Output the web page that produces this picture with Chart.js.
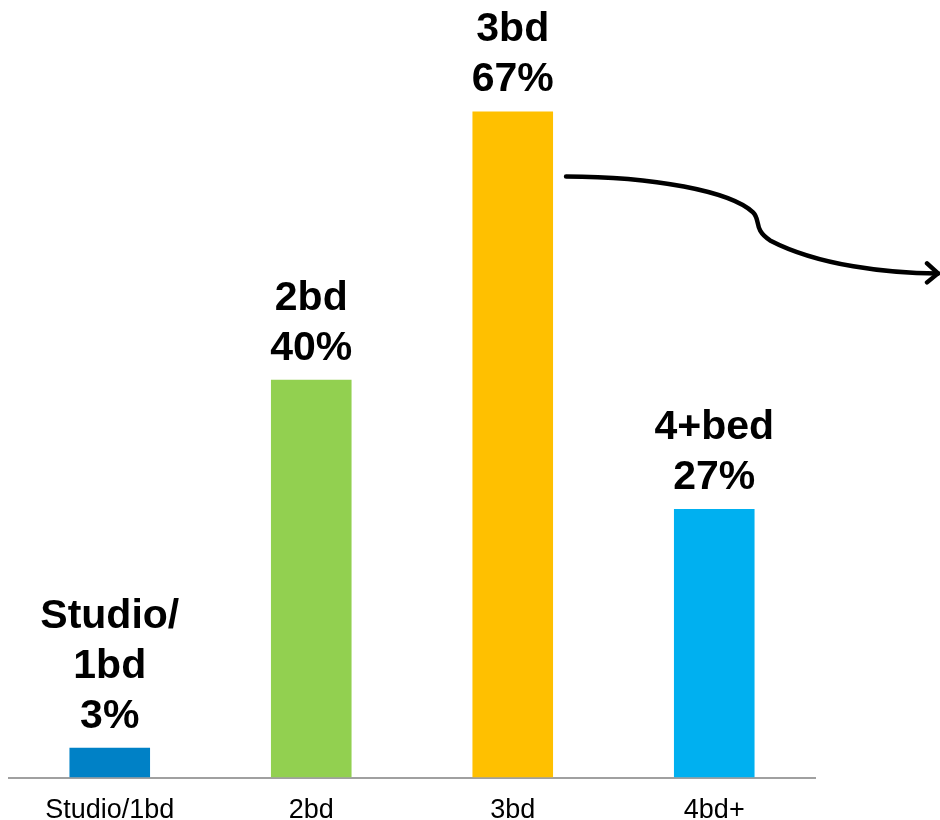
<!DOCTYPE html>
<html>
<head>
<meta charset="utf-8">
<title>Bedrooms</title>
<script src="https://cdn.jsdelivr.net/npm/chart.js@4"></script>
<style>
    html, body { margin: 0; padding: 0; background: #fff; }
    #wrap { width: 940px; height: 820px; }
</style>
</head>
<body>
<div id="wrap"><canvas id="bedChart" width="940" height="820"></canvas></div>
<script>
const categories = ['Studio/1bd', '2bd', '3bd', '4bd+'];
const shares = [3, 40, 67, 27];
const barNames = [['Studio/', '1bd'], ['2bd'], ['3bd'], ['4+bed']];
const barColors = ['#0081C6', '#92D050', '#FFC000', '#00B0F0'];

const FONT = '"Liberation Sans", Arial, sans-serif';

// name + percentage stacked above each bar
const barLabels = {
    id: 'barLabels',
    afterDatasetsDraw(chart) {
        const ctx = chart.ctx;
        const meta = chart.getDatasetMeta(0);
        ctx.save();
        ctx.fillStyle = '#000';
        ctx.font = 'bold 41px ' + FONT;
        ctx.textAlign = 'center';
        ctx.textBaseline = 'alphabetic';
        meta.data.forEach(function (bar, i) {
            let lines = barNames[i].concat([shares[i] + '%']);
            let y = bar.y - 20;
            for (let k = lines.length - 1; k >= 0; k--) {
                ctx.fillText(lines[k], bar.x, y);
                y -= 50;
            }
        });
        ctx.restore();
    }
};

// curved arrow coming off the 3bd bar
const arrow = {
    id: 'arrow',
    afterDraw(chart) {
        const bar = chart.getDatasetMeta(0).data[2];
        const ox = bar.x + bar.width / 2;
        const oy = bar.y;
        const ctx = chart.ctx;
        ctx.save();
        ctx.translate(ox, oy);
        ctx.strokeStyle = '#000';
        ctx.lineWidth = 4.5;
        ctx.lineCap = 'round';
        ctx.lineJoin = 'round';
        ctx.beginPath();
        ctx.moveTo(13, 65);
        ctx.bezierCurveTo(100, 65, 178, 80, 200, 101);
        ctx.bezierCurveTo(208, 109, 200, 118, 217, 129);
        ctx.bezierCurveTo(265, 154, 335, 162, 385, 162);
        ctx.stroke();
        ctx.beginPath();
        ctx.moveTo(374, 152);
        ctx.lineTo(385, 162);
        ctx.lineTo(374, 171);
        ctx.stroke();
        ctx.restore();
    }
};

const chart = new Chart(document.getElementById('bedChart').getContext('2d'), {
    type: 'bar',
    data: {
        labels: categories,
        datasets: [{
            data: shares,
            backgroundColor: barColors,
            barPercentage: 0.4,
            categoryPercentage: 1.0
        }]
    },
    options: {
        responsive: false,
        animation: false,
        layout: { padding: { left: 9, right: 125, top: 2, bottom: -24 } },
        plugins: {
            legend: { display: false },
            tooltip: { enabled: false }
        },
        scales: {
            x: {
                grid: { display: false, drawTicks: false },
                border: { display: true, color: '#A0A0A0', width: 2 },
                ticks: {
                    color: '#000',
                    padding: 17,
                    font: { family: FONT, size: 27 }
                }
            },
            y: {
                display: false,
                min: 0,
                max: 78
            }
        }
    },
    plugins: [barLabels, arrow]
});
</script>
</body>
</html>
